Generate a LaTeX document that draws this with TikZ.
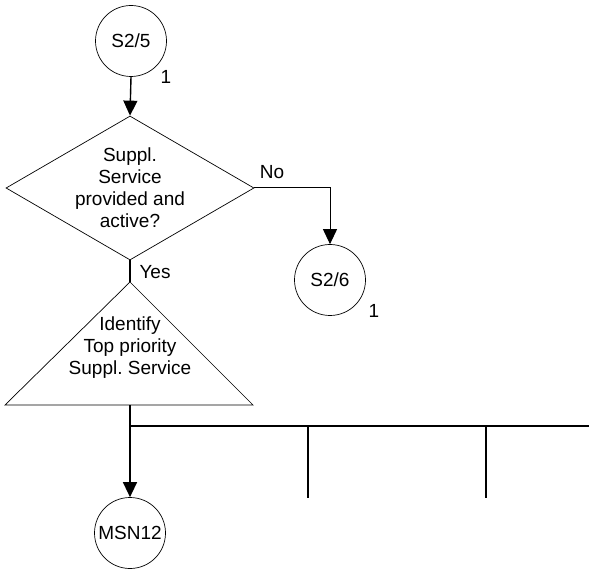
\documentclass[tikz,border=0pt]{standalone}
\usepackage{fontspec}
\setmainfont{Liberation Sans}
\usetikzlibrary{shapes.geometric,arrows.meta}
\frenchspacing
\begin{document}
\begin{tikzpicture}[x=1pt,y=-1pt,
  every node/.style={font=\fontsize{19}{22}\selectfont},
  conn/.style={draw, line width=1.4pt},
  thinconn/.style={draw, line width=1.0pt},
  flow/.style={conn, -{Triangle[length=15pt,width=14pt]}},
  bus/.style={draw, line width=1.9pt},
  outline/.style={draw, line width=0.7pt},
  connector/.style={outline, circle, minimum size=71pt, inner sep=0pt},
  decision/.style={outline, diamond, minimum width=248pt, minimum height=144pt, inner sep=0pt}]
\useasboundingbox (0,0) rectangle (589,569);

% entry connector
\node[connector] (s25) at (131,41) {S2/5};
\node at (166,77) {1};

% decision
\node[decision] (dec) at (130,188) {};
\node[align=center] (dectext) at (130,188) {Suppl.\\Service\\provided and\\active?};
\node (no) at (272,172) {No};
\draw[flow] (s25.south) -- (dec.north);

% exit connector on "No"
\node[connector] (s26) at (330,280) {S2/6};
\node at (374,311) {1};
\draw[thinconn, -{Triangle[length=15pt,width=14pt]}] (dec.east) -| (s26.north);

% process triangle
\coordinate (tritop) at (130,282);
\coordinate (trileft) at (5,405);
\coordinate (triright) at (253,405);
\coordinate (tribase) at (130,405);
\draw[outline] (tritop) -- (triright) -- (trileft) -- cycle;
\node[align=center] (tritext) at (130,348) {Identify\\Top priority\\Suppl.\ Service};
\node[anchor=west] (yes) at (136,272) {Yes};
\draw[conn] (dec.south) -- (tritop);

% branching bus
\node[connector] (msn) at (130,533) {MSN12};
\coordinate (busl) at (130,426);
\coordinate (busr) at (589,426);
\coordinate (b1) at (308,426);
\coordinate (b1e) at (308,498);
\coordinate (b2) at (486,426);
\coordinate (b2e) at (486,498);
\draw[flow] (tribase) -- (msn.north);
\draw[bus] (busl) -- (busr);
\draw[conn] (b1) -- (b1e);
\draw[conn] (b2) -- (b2e);
\end{tikzpicture}
\end{document}
